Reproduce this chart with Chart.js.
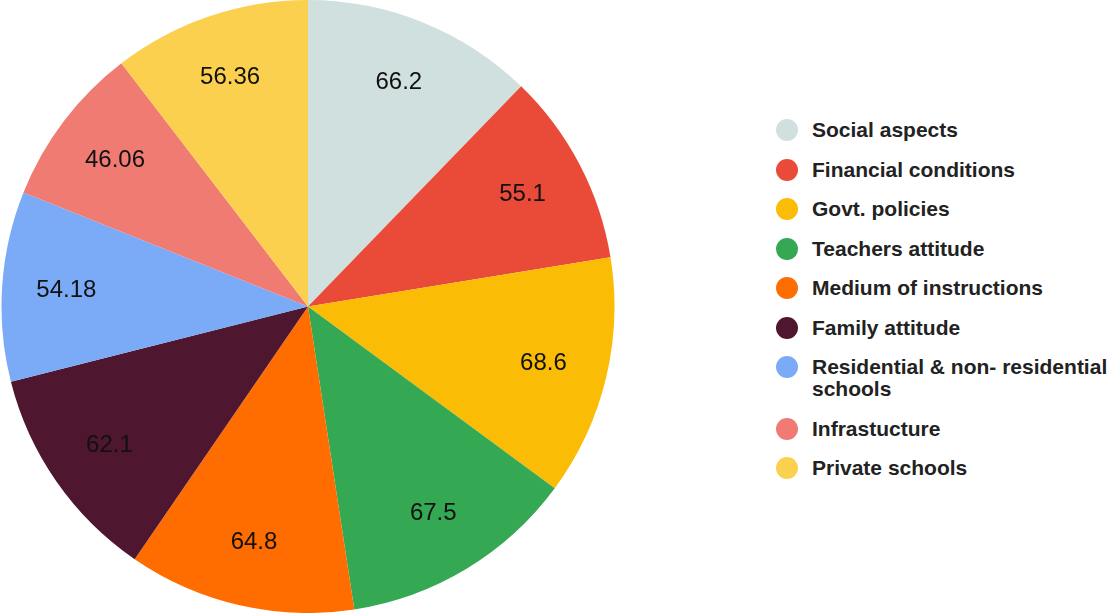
<!DOCTYPE html>
<html>
<head>
<meta charset="utf-8">
<script src="https://cdn.jsdelivr.net/npm/chart.js@4/dist/chart.umd.min.js"></script>
<style>
  body { margin: 0; background: #fff; }
  #wrap { position: relative; width: 1114px; height: 613px; }
  #pieBox { position: absolute; left: 0; top: 0; width: 616px; height: 613px; }
  #legend { position: absolute; left: 776px; top: 119px; font-family: "Liberation Sans", Arial, sans-serif;
    font-weight: bold; font-size: 21px; color: #222; }
  .item { position: relative; padding-left: 36px; margin-bottom: 17.5px; line-height: 22px; width: 310px; }
  .dot { position: absolute; left: 0; top: 0; width: 22px; height: 22px; border-radius: 50%; }
</style>
</head>
<body>
<div id="wrap">
  <div id="pieBox"><canvas id="pieChart"></canvas></div>
  <div id="legend"></div>
</div>
<script>
const labels = ["Social aspects", "Financial conditions", "Govt. policies", "Teachers attitude",
  "Medium of instructions", "Family attitude", "Residential & non- residential schools",
  "Infrastucture", "Private schools"];
const values = [66.2, 55.1, 68.6, 67.5, 64.8, 62.1, 54.18, 46.06, 56.36];
const colors = ["#d0e0df", "#ea4a38", "#fbbc05", "#34a853", "#ff6d01", "#4e162f", "#7baaf7", "#f07b72", "#fcd04f"];

// value labels drawn inside each slice
const sliceLabels = {
  id: "sliceLabels",
  afterDatasetsDraw(chart) {
    const ctx = chart.ctx;
    const meta = chart.getDatasetMeta(0);
    ctx.save();
    ctx.font = "24px 'Liberation Sans', Arial, sans-serif";
    ctx.fillStyle = "#111";
    ctx.textAlign = "center";
    ctx.textBaseline = "middle";
    meta.data.forEach((arc, i) => {
      const p = arc.getProps(["x", "y", "startAngle", "endAngle", "outerRadius"], true);
      const mid = (p.startAngle + p.endAngle) / 2;
      const r = p.outerRadius * 0.79;
      ctx.fillText(String(values[i]), p.x + Math.cos(mid) * r, p.y + Math.sin(mid) * r);
    });
    ctx.restore();
  },
};

new Chart(document.getElementById("pieChart"), {
  type: "pie",
  data: {
    labels: labels,
    datasets: [{ data: values, backgroundColor: colors, borderWidth: 0 }],
  },
  options: {
    responsive: true,
    maintainAspectRatio: false,
    animation: false,
    events: [],
    layout: { padding: 0 },
    plugins: { legend: { display: false }, tooltip: { enabled: false } },
  },
  plugins: [sliceLabels],
});

const legend = document.getElementById("legend");
labels.forEach((name, i) => {
  const item = document.createElement("div");
  item.className = "item";
  item.innerHTML = `<span class="dot" style="background:${colors[i]}"></span>${name}`;
  legend.appendChild(item);
});
</script>
</body>
</html>
